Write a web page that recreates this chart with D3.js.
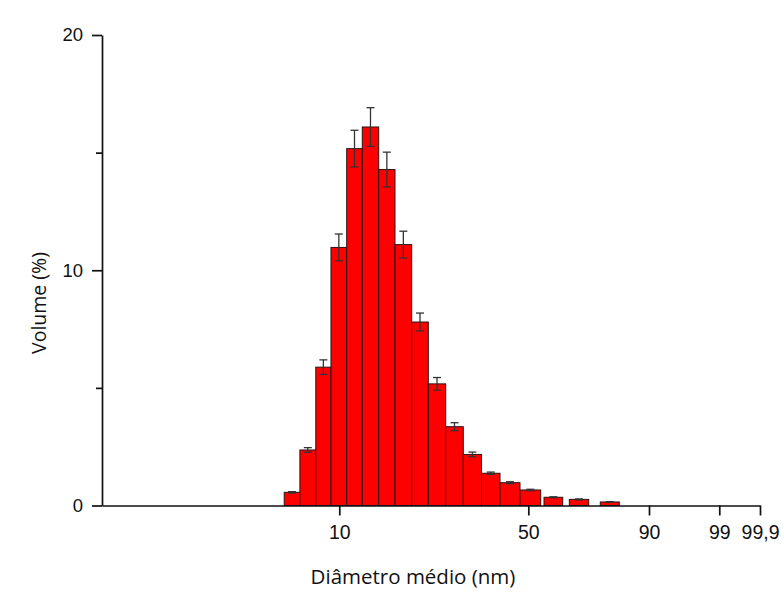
<!DOCTYPE html>
<html><head><meta charset="utf-8">
<script src="https://cdn.jsdelivr.net/npm/d3@7"></script>
<style>body{margin:0;background:#fff}</style>
</head><body>
<svg id="c" width="784" height="600"></svg>
<script>
// Histogram bins (positions on the chart's cumulative x axis) and volumes
const binStart = [7.68, 8.34, 9.01, 9.65, 11.57, 14.87, 18.34, 21.79, 25.32, 28.84, 32.52, 36.24, 40.10, 44.01, 48.24, 55.20, 63.59, 73.86];
const binEnd   = [8.34, 9.01, 9.65, 11.57, 14.87, 18.34, 21.79, 25.32, 28.84, 32.52, 36.24, 40.10, 44.01, 48.24, 54.11, 61.40, 70.02, 80.16];
const volume   = [0.56, 2.36, 5.88, 10.97, 15.17, 16.09, 14.28, 11.09, 7.80, 5.17, 3.35, 2.17, 1.37, 0.97, 0.66, 0.35, 0.26, 0.15];
const errors   = [0.03, 0.10, 0.31, 0.57, 0.78, 0.82, 0.74, 0.57, 0.38, 0.27, 0.17, 0.10, 0.05, 0.04, 0.03, 0.02, 0.02, 0.01];
const xTicks = [10, 50, 90, 99, 99.9];
const xTickLabels = ["10", "50", "90", "99", "99,9"];
const yTicks = [0, 10, 20];
const yMinorTicks = [5, 15];
const xTitle = "Diâmetro médio (nm)";
const yTitle = "Volume (%)";

const svg = d3.select("#c");
const mLeft = 102, mRight = 760, mTop = 35, mBottom = 505.5;
const W = mRight - mLeft;

// non-linear (probability-like) x axis: piecewise linear between labelled stops
const x = d3.scaleLinear()
  .domain([0, 10, 50, 90, 99, 99.9])
  .range([mLeft, mLeft + W * 0.3606, mLeft + W * 0.6479, mLeft + W * 0.8313, mLeft + W * 0.9381, mRight]);
const y = d3.scaleLinear().domain([0, 20]).range([mBottom, mTop]);

const data = volume.map((v, i) => ({x0: binStart[i], x1: binEnd[i], v, e: errors[i]}));

// bars
svg.append("g").selectAll("rect").data(data).join("rect")
  .attr("x", d => x(d.x0))
  .attr("y", d => y(d.v))
  .attr("width", d => x(d.x1) - x(d.x0))
  .attr("height", d => y(0) - y(d.v))
  .attr("fill", "#ff0000")
  .attr("stroke", "#2a1414")
  .attr("stroke-width", 1);

// error bars
const eb = svg.append("g").attr("stroke", "#333").attr("stroke-width", 1.3);
data.forEach(d => {
  const cx = (x(d.x0) + x(d.x1)) / 2;
  eb.append("line").attr("x1", cx).attr("x2", cx).attr("y1", y(d.v - d.e)).attr("y2", y(d.v + d.e));
  eb.append("line").attr("x1", cx - 4).attr("x2", cx + 4).attr("y1", y(d.v + d.e)).attr("y2", y(d.v + d.e));
  eb.append("line").attr("x1", cx - 4).attr("x2", cx + 4).attr("y1", y(d.v - d.e)).attr("y2", y(d.v - d.e));
});

// y axis
const yAx = svg.append("g").attr("transform", `translate(${mLeft},0)`)
  .call(d3.axisLeft(y).tickValues(yTicks).tickFormat(d3.format("d")).tickSize(10).tickSizeOuter(0).tickPadding(9));
yAx.selectAll(".tick text").attr("font-size", 18.5);
svg.append("g").attr("transform", `translate(${mLeft},0)`)
  .call(d3.axisLeft(y).tickValues(yMinorTicks).tickFormat("").tickSize(6).tickSizeOuter(0))
  .select(".domain").remove();

// x axis
const xAx = svg.append("g").attr("transform", `translate(0,${mBottom})`)
  .call(d3.axisBottom(x).tickValues(xTicks).tickFormat((d, i) => xTickLabels[i]).tickSize(10).tickSizeOuter(0).tickPadding(10));
xAx.selectAll(".tick text").attr("font-size", 19.5);

svg.selectAll(".domain").attr("stroke", "#111").attr("stroke-width", 1.7);
svg.selectAll(".tick line").attr("stroke", "#111").attr("stroke-width", 1.7);
svg.selectAll(".tick text").attr("font-family", "'Liberation Sans', Arial, sans-serif").attr("fill", "#111");

// titles
svg.append("text").attr("x", 413).attr("y", 584).attr("text-anchor", "middle")
  .attr("font-family", "'Open Sans', sans-serif").attr("font-size", 20.5).attr("fill", "#111").text(xTitle);
svg.append("text").attr("transform", "translate(46,303) rotate(-90)").attr("text-anchor", "middle")
  .attr("font-family", "'Open Sans', sans-serif").attr("font-size", 19.5).attr("fill", "#111").text(yTitle);
</script>
</body></html>
